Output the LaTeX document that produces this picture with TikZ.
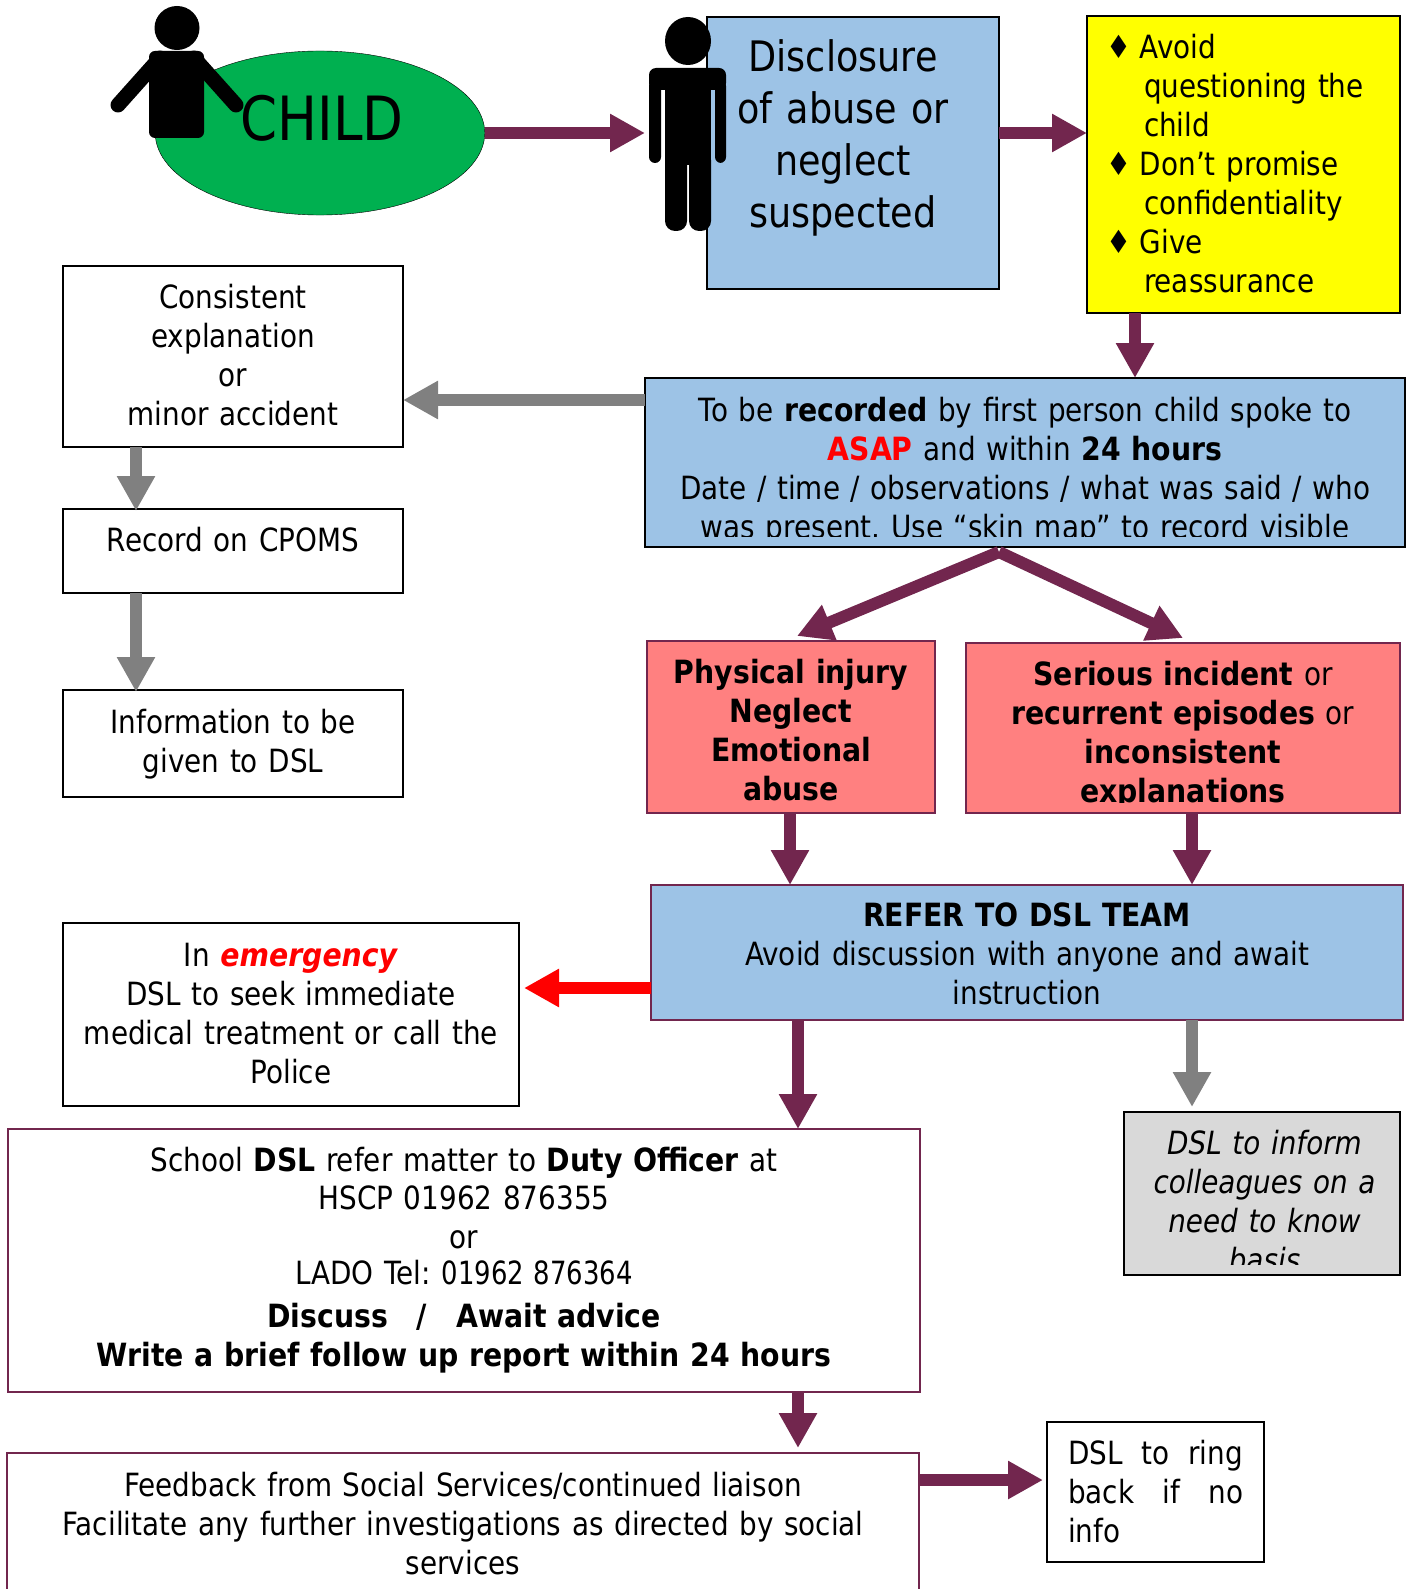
\documentclass[tikz,border=0pt]{standalone}
\usepackage{fontspec}
\usepackage{xcolor}
\usetikzlibrary{arrows.meta,shapes.geometric}
\setmainfont[FakeStretch=.87,BoldFeatures={FakeStretch=.885},BoldItalicFeatures={FakeStretch=.885}]{DejaVu Sans}
\definecolor{plum}{HTML}{72264E}
\definecolor{sky-blue}{HTML}{9DC3E6}
\definecolor{salmon}{HTML}{FF8080}
\definecolor{leaf-green}{HTML}{00B050}
\definecolor{pale-grey}{HTML}{D9D9D9}
\definecolor{bright-yellow}{HTML}{FFFF00}
\tikzset{
    flow-box/.style = {draw=black, fill=white, line width=2pt, rectangle, anchor=north west, inner sep=0pt, outer sep=0pt, align=center, font=\fontsize{32}{39}\selectfont},
    plum-box/.style = {flow-box, draw=plum},
    box-size/.style n args = {3}{text width=#1, text height=#2, text depth=#3},
    plum-arrow/.style = {draw=plum, line width=12pt, -{Triangle[length=35pt, width=36pt]}},
    grey-arrow/.style = {plum-arrow, draw=gray},
    red-arrow/.style = {plum-arrow, draw=red},
}
\newcommand{\diamonditem}[1]{\makebox[53pt][l]{\hspace*{19pt}♦}#1}
\newcommand{\itemrest}[1]{\hspace*{57pt}#1}
\newcommand{\nudgeleft}[1]{\hspace*{-20pt}#1}
\newcommand{\nudgeright}[1]{\hspace*{5pt}#1}

\begin{document}
\frenchspacing
\begin{tikzpicture}[x=1pt, y=-1pt]
\useasboundingbox (0,0) rectangle (1407,1589);
\node [draw=black, thin, fill=leaf-green, ellipse, inner sep=0pt, outer sep=0pt, align=center, box-size={233pt}{64pt}{52pt}] (child) at (320,133) {};
\fill (177,28) ellipse (22.5 and 22);
\fill [rounded corners=6pt] (149,51) rectangle (204,138);
\draw [line width=15pt, line cap=round] (160,58) -- (118,105);
\draw [line width=15pt, line cap=round] (194,58) -- (236,105);
\node [inner sep=0pt, outer sep=0pt, align=center, font=\fontsize{61}{63}\selectfont, text width=233pt] (child-label) at (322,118) {CHILD};

\node [flow-box, fill=sky-blue, font=\fontsize{42}{52}\selectfont, box-size={292pt}{55pt}{217pt}] (disclosure) at (707,17) {\nudgeleft{Disclosure}\\\nudgeleft{of abuse or}\\\nudgeleft{neglect}\\\nudgeleft{suspected}};
\fill (688,41) ellipse (23 and 24);
\fill [rounded corners=7pt] (649,68) rectangle (726,90);
\fill [rounded corners=6pt] (649,80) rectangle (661,163);
\fill [rounded corners=6pt] (715,80) rectangle (726,163);
\fill (665,68) rectangle (711,165);
\fill [rounded corners=10pt] (665,150) rectangle (687,231);
\fill [rounded corners=10pt] (689,150) rectangle (711,231);
\coordinate (adult) at (645,133);

\node [flow-box, fill=bright-yellow, align=left, box-size={313pt}{43pt}{254pt}] (advice) at (1087,16) {\diamonditem{Avoid}\\\itemrest{questioning the}\\\itemrest{child}\\\diamonditem{Don’t promise}\\\itemrest{confidentiality}\\\diamonditem{Give}\\\itemrest{reassurance}};

\node [flow-box, box-size={340pt}{42pt}{139pt}] (consistent) at (63,266) {Consistent\\explanation\\or\\minor accident};
\node [flow-box, box-size={340pt}{42pt}{42pt}] (cpoms) at (63,509) {Record on CPOMS};
\node [flow-box, box-size={340pt}{43pt}{64pt}] (information) at (63,690) {Information to be\\given to DSL};

\node [flow-box, fill=sky-blue, box-size={760pt}{43pt}{126pt}] (record) at (645,378) {To be \textbf{recorded} by first person child spoke to\\\textcolor{red}{\textbf{ASAP}} and within \textbf{24 hours}\\Date / time / observations / what was said / who\\was present. Use “skin map” to record visible};
\fill [sky-blue] ([xshift=1pt, yshift=1pt]record.south west) rectangle ([xshift=-1pt, yshift=10pt]record.south east);

\node [plum-box, fill=salmon, font=\fontsize{32}{39}\selectfont\bfseries, box-size={288pt}{42pt}{130pt}] (physical) at (647,641) {Physical injury\\Neglect\\Emotional\\abuse};
\node [plum-box, fill=salmon, box-size={434pt}{42pt}{128pt}] (serious) at (966,643) {\textbf{Serious incident} or\\\textbf{recurrent episodes} or\\\textbf{inconsistent}\\\textbf{explanations}};
\fill [salmon] ([xshift=1pt, yshift=1pt]serious.south west) rectangle ([xshift=-1pt, yshift=10pt]serious.south east);

\node [plum-box, fill=sky-blue, box-size={752pt}{41pt}{94pt}] (refer) at (651,885) {\textbf{REFER TO DSL TEAM}\\Avoid discussion with anyone and await\\instruction};
\node [flow-box, box-size={456pt}{43pt}{140pt}] (emergency) at (63,923) {In \textcolor{red}{\textbf{\textit{emergency}}}\\DSL to seek immediate\\medical treatment or call the\\Police};
\node [flow-box, fill=pale-grey, font=\fontsize{32}{39}\selectfont\itshape, box-size={276pt}{42pt}{121pt}] (inform) at (1124,1112) {\nudgeright{DSL to inform}\\\nudgeright{colleagues on a}\\\nudgeright{need to know}\\\nudgeright{basis}};
\fill [pale-grey] ([xshift=1pt, yshift=1pt]inform.south west) rectangle ([xshift=-1pt, yshift=10pt]inform.south east);

\node [plum-box, box-size={912pt}{42pt}{221pt}] (school) at (8,1129) {School \textbf{DSL} refer matter to \textbf{Duty Officer} at\\[-1pt]HSCP 01962 876355\\or\\[-3pt]LADO Tel: \scalebox{.93}[1]{01962 876364}\\[4pt]\textbf{Discuss\hspace{29pt}/\hspace{29pt}Await advice}\\\textbf{Write a brief follow up report within 24 hours}};
\node [plum-box, box-size={912pt}{43pt}{96pt}] (feedback) at (7,1453) {Feedback from Social Services/continued liaison\\Facilitate any further investigations as directed by social\\services};
\node [flow-box, align=left, box-size={217pt}{42pt}{98pt}] (ring) at (1047,1422) {\hspace*{21pt}\makebox[175pt][s]{DSL\hfill to\hfill ring}\\\hspace*{21pt}\makebox[175pt][s]{back\hfill if\hfill no}\\\hspace*{21pt}info};

\draw [plum-arrow] (child.east |- adult) -- (adult);
\draw [plum-arrow] (disclosure.east |- adult) -- (advice.west |- adult);
\draw [plum-arrow] (advice.south -| 1135,0) -- (record.north -| 1135,0);
\draw [grey-arrow] (record.west |- 0,400) -- (consistent.east |- 0,400);
\draw [grey-arrow] (consistent.south -| 136,0) -- ([yshift=-2pt]cpoms.north -| 136,0);
\draw [grey-arrow] (cpoms.south -| 136,0) -- ([yshift=-2pt]information.north -| 136,0);
\draw [plum-arrow] ([xshift=-26pt, yshift=-5pt]record.south) -- ([xshift=6pt, yshift=5pt]physical.north);
\draw [plum-arrow] ([xshift=-26pt, yshift=-5pt]record.south) -- ([yshift=5pt]serious.north);
\draw [plum-arrow] ([xshift=-1pt]physical.south) -- ([xshift=-1pt]refer.north -| physical.south);
\draw [plum-arrow] (serious.south -| 1192,0) -- (refer.north -| 1192,0);
\draw [red-arrow] (refer.west |- 0,988) -- ([xshift=5pt]emergency.east |- 0,988);
\draw [plum-arrow] (refer.south -| 798,0) -- (school.north -| 798,0);
\draw [grey-arrow] (refer.south -| 1192,0) -- ([yshift=5pt]inform.north -| 1192,0);
\draw [plum-arrow] (school.south -| 798,0) -- ([yshift=5pt]feedback.north -| 798,0);
\draw [plum-arrow] (feedback.east |- 0,1480) -- ([xshift=-4pt]ring.west |- 0,1480);
\end{tikzpicture}
\end{document}
